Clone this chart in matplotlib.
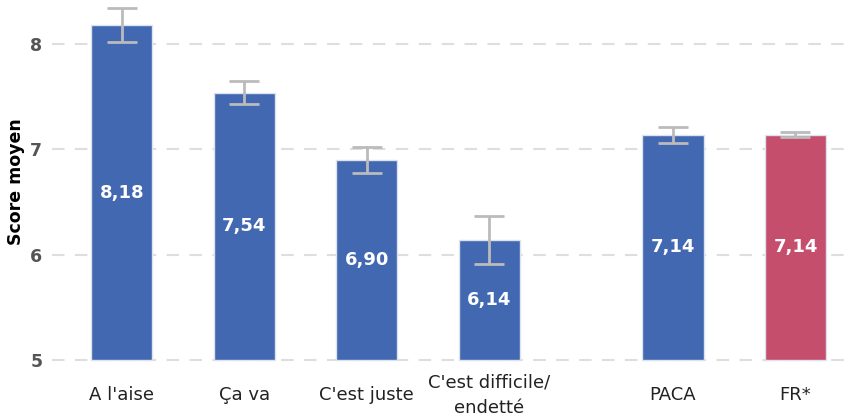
import matplotlib
matplotlib.use("Agg")
import matplotlib.pyplot as plt

# Mean score by perceived financial situation, plus regional/national reference
categories = ["A l'aise", "Ça va", "C'est juste", "C'est difficile/\nendetté", "PACA", "FR*"]
positions = [0, 1, 2, 3, 4.5, 5.5]
scores = [8.18, 7.54, 6.90, 6.14, 7.14, 7.14]
errors = [0.16, 0.11, 0.125, 0.23, 0.075, 0.025]
colors = ["#4268B1", "#4268B1", "#4268B1", "#4268B1", "#4268B1", "#C64E6D"]

fig = plt.figure(figsize=(8.53, 4.19), dpi=100)
ax = fig.add_axes([0.061, 0.136, 0.939, 0.859])

ax.bar(positions, [s - 5 for s in scores], bottom=5, width=0.5, color=colors,
       edgecolor="#dde3ee", linewidth=1, zorder=2)
ax.errorbar(positions, scores, yerr=errors, fmt="none", ecolor="#bbbbbb",
            elinewidth=2, capsize=11, capthick=2, zorder=3)

for x, s in zip(positions, scores):
    ax.text(x, (5 + s) / 2, f"{s:.2f}".replace(".", ","), ha="center", va="center",
            color="white", fontsize=13, fontweight="bold", zorder=4)

ax.set_xlim(-0.57, 5.97)
ax.set_ylim(4.98, 8.4)
ax.set_yticks([5, 6, 7, 8])
ax.set_xticks(positions)
ax.set_xticklabels(categories, fontsize=13, color="#222222", linespacing=1.5,
                   va="center")
for lbl in ax.get_yticklabels():
    lbl.set_fontweight("bold")
    lbl.set_fontsize(12.5)
    lbl.set_color("#555555")
ax.set_ylabel("Score moyen", fontsize=12.5, fontweight="bold", labelpad=4)

ax.grid(axis="y", linestyle=(0, (6, 5)), color="#dedede", linewidth=1.5, zorder=0)
ax.set_axisbelow(True)
ax.tick_params(axis="x", length=0, pad=24)
ax.tick_params(axis="y", length=0, pad=7)
for sp in ax.spines.values():
    sp.set_visible(False)

fig.savefig("out.png", dpi=100)
